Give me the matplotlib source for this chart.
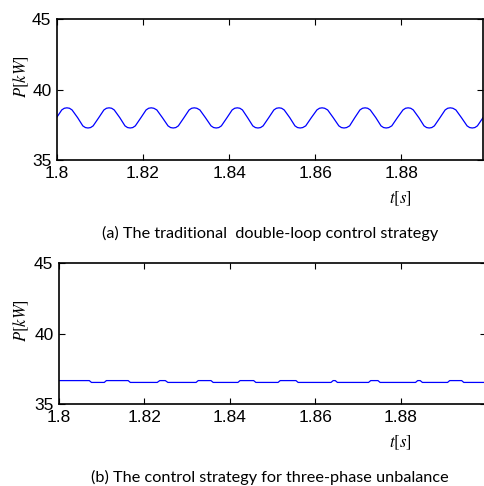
import matplotlib
matplotlib.use('Agg')
from matplotlib import pyplot as plt

# (a) traditional double-loop control: P oscillation
t_a = [1.8000, 1.8006, 1.8011, 1.8017,
       1.8023, 1.8029, 1.8035, 1.8048, 1.8060, 1.8066, 1.8072, 1.8078, 1.8084, 1.8097, 1.8109, 1.8115,
       1.8121, 1.8127, 1.8133, 1.8146, 1.8158, 1.8164, 1.8170, 1.8176, 1.8182, 1.8195, 1.8207, 1.8213,
       1.8219, 1.8225, 1.8232, 1.8245, 1.8258, 1.8264, 1.8270, 1.8276, 1.8282, 1.8295, 1.8307, 1.8313,
       1.8319, 1.8325, 1.8332, 1.8345, 1.8358, 1.8364, 1.8370, 1.8376, 1.8382, 1.8395, 1.8407, 1.8413,
       1.8419, 1.8425, 1.8431, 1.8443, 1.8455, 1.8461, 1.8467, 1.8473, 1.8479, 1.8492, 1.8504, 1.8510,
       1.8516, 1.8522, 1.8528, 1.8541, 1.8553, 1.8559, 1.8565, 1.8571, 1.8578, 1.8591, 1.8604, 1.8610,
       1.8616, 1.8622, 1.8629, 1.8642, 1.8655, 1.8661, 1.8667, 1.8673, 1.8680, 1.8692, 1.8704, 1.8710,
       1.8716, 1.8722, 1.8728, 1.8741, 1.8753, 1.8759, 1.8765, 1.8771, 1.8778, 1.8791, 1.8804, 1.8810,
       1.8816, 1.8822, 1.8828, 1.8841, 1.8853, 1.8859, 1.8865, 1.8871, 1.8877, 1.8890, 1.8902, 1.8908,
       1.8914, 1.8920, 1.8927, 1.8940, 1.8953, 1.8959, 1.8965, 1.8971, 1.8977, 1.8990]
p_a = [38.05, 38.32, 38.55, 38.67,
       38.70, 38.67, 38.55, 38.00, 37.42, 37.30, 37.27, 37.30, 37.42, 38.00, 38.55, 38.67,
       38.70, 38.67, 38.55, 38.00, 37.42, 37.30, 37.27, 37.30, 37.42, 38.00, 38.55, 38.67,
       38.70, 38.67, 38.55, 38.00, 37.42, 37.30, 37.27, 37.30, 37.42, 38.00, 38.55, 38.67,
       38.70, 38.67, 38.55, 38.00, 37.42, 37.30, 37.27, 37.30, 37.42, 38.00, 38.55, 38.67,
       38.70, 38.67, 38.55, 38.00, 37.42, 37.30, 37.27, 37.30, 37.42, 38.00, 38.55, 38.67,
       38.70, 38.67, 38.55, 38.00, 37.42, 37.30, 37.27, 37.30, 37.42, 38.00, 38.55, 38.67,
       38.70, 38.67, 38.55, 38.00, 37.42, 37.30, 37.27, 37.30, 37.42, 38.00, 38.55, 38.67,
       38.70, 38.67, 38.55, 38.00, 37.42, 37.30, 37.27, 37.30, 37.42, 38.00, 38.55, 38.67,
       38.70, 38.67, 38.55, 38.00, 37.42, 37.30, 37.27, 37.30, 37.42, 38.00, 38.55, 38.67,
       38.70, 38.67, 38.55, 38.00, 37.42, 37.30, 37.27, 37.30, 37.42, 38.00]

# (b) control strategy for three-phase unbalance: nearly flat with small steps
t_b = [1.8000, 1.8071, 1.8076, 1.8106, 1.8111, 1.8162, 1.8167, 1.8230,
       1.8236, 1.8249, 1.8255, 1.8321, 1.8326, 1.8356, 1.8361, 1.8419,
       1.8424, 1.8456, 1.8461, 1.8513, 1.8518, 1.8555, 1.8560, 1.8637,
       1.8642, 1.8647, 1.8652, 1.8725, 1.8730, 1.8747, 1.8752, 1.8835,
       1.8840, 1.8846, 1.8851, 1.8910, 1.8915, 1.8943, 1.8948, 1.9000]
p_b = [36.66, 36.66, 36.53, 36.53, 36.66, 36.66, 36.53, 36.53,
       36.66, 36.66, 36.53, 36.53, 36.66, 36.66, 36.53, 36.53,
       36.66, 36.66, 36.53, 36.53, 36.66, 36.66, 36.53, 36.53,
       36.66, 36.66, 36.53, 36.53, 36.66, 36.66, 36.53, 36.53,
       36.66, 36.66, 36.53, 36.53, 36.66, 36.66, 36.53, 36.53]

x_ticks = [1.8, 1.82, 1.84, 1.86, 1.88]
x_labels = ['1.8', '1.82', '1.84', '1.86', '1.88']
y_ticks = [35, 40, 45]

captions = ['(a) The traditional  double-loop control strategy',
            '(b) The control strategy for three-phase unbalance']

plt.rcParams['mathtext.fontset'] = 'stix'
plt.rcParams['font.family'] = 'Liberation Sans'

fig = plt.figure(figsize=(4.84, 4.86), dpi=100)

W, H = 484.0, 486.0
# axes boxes in pixels: left, top, right, bottom
boxes = [(57, 19, 483, 160), (59, 263, 486, 404)]
xlims = [(1.8, 1.899), (1.8, 1.9)]
series = [(t_a, p_a), (t_b, p_b)]

for i in range(2):
    l, tp, r, b = boxes[i]
    ax = fig.add_axes([l / W, 1 - b / H, (r - l) / W, (b - tp) / H])
    ax.plot(series[i][0], series[i][1], color='#0000ff', lw=0.9)
    ax.set_xlim(*xlims[i])
    ax.set_ylim(35, 45)
    ax.set_xticks(x_ticks)
    ax.set_xticklabels(x_labels)
    ax.set_yticks(y_ticks)
    ax.tick_params(direction='in', length=4, width=0.8, top=True, right=True,
                   labelsize=12.5, pad=4, colors='black')
    for s in ax.spines.values():
        s.set_linewidth(1.2)
    # y label a little above centre, matlab style
    fig.text(21 / W, 1 - (tp + 58) / H, r'$P[kW]$', rotation=90,
             ha='center', va='center', fontsize=12)
    fig.text(400 / W, 1 - (b + 39) / H, r'$t[s]$',
             ha='center', va='center', fontsize=12)
    fig.text(270 / W, 1 - (b + 73) / H, captions[i],
             ha='center', va='center', fontsize=11.7, family='Lato')

fig.savefig('out.png', dpi=100)
